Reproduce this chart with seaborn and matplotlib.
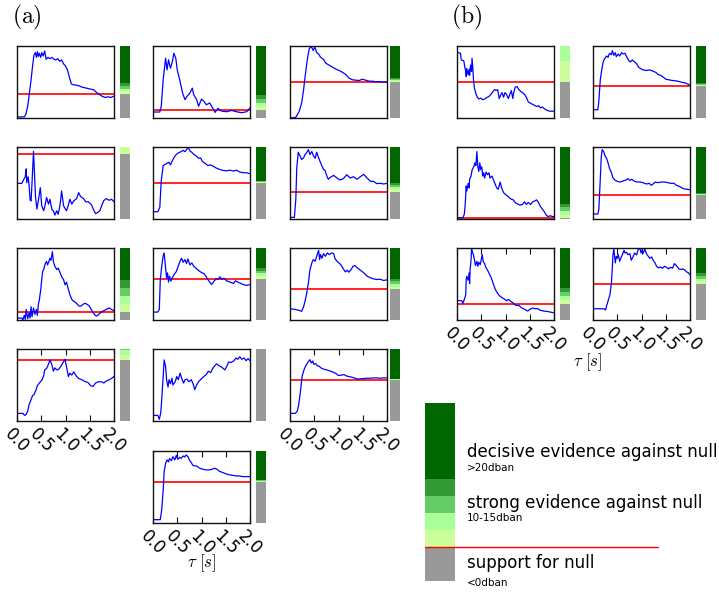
import matplotlib
matplotlib.use("Agg")
import matplotlib.pyplot as plt
import numpy as np
import pandas as pd
import seaborn as sns

sns.set_style("white")
plt.rcParams["font.family"] = ["DejaVu Sans"]
plt.rcParams["mathtext.fontset"] = "cm"
plt.rcParams["text.color"] = "black"
plt.rcParams["xtick.color"] = "black"
plt.rcParams["axes.labelcolor"] = "black"

# ---------------------------------------------------------------------------
# Evidence curves (dban) against delay tau (s), one pair of arrays per panel
# ---------------------------------------------------------------------------
t_a1 = [0.00, 0.15, 0.18, 0.22, 0.26, 0.29, 0.32, 0.35, 0.38, 0.40, 0.42, 0.44, 0.46, 0.49, 0.51, 0.54, 0.57, 0.60, 0.64, 0.68, 0.72, 0.76, 0.80, 0.84, 0.88, 0.92, 0.96, 1.00, 1.04, 1.08, 1.12, 1.16, 1.22, 1.28, 1.34, 1.40, 1.46, 1.52, 1.58, 1.64, 1.70, 1.76, 1.82, 1.88, 1.94, 2.00]
v_a1 = [-42, -42, -38, -22.5, 5, 26.5, 51, 72.5, 76.8, 68, 78.6, 69.4, 75.5, 68, 76.8, 70.6, 79.8, 64.5, 68, 65.7, 68, 64.5, 63.3, 65.7, 60.8, 63.3, 56, 52.2, 44.9, 31.4, 19.1, 17.3, 16.7, 15.5, 13, 11.8, 10.6, 9.3, 8.1, 3.2, -0.5, -4.2, -6, -4.8, -6, -3.5]

t_a2 = [0, 0.14, 0.17, 0.21, 0.26, 0.29, 0.32, 0.36, 0.40, 0.43, 0.47, 0.50, 0.55, 0.61, 0.66, 0.70, 0.76, 0.81, 0.84, 0.90, 0.94, 1.00, 1.05, 1.10, 1.17, 1.23, 1.28, 1.34, 1.41, 1.52, 1.62, 1.72, 1.83, 1.93, 2.00]
v_a2 = [-2.9, -2.9, 4.8, 40.8, 70, 54.3, 67.8, 56.5, 65.5, 76.8, 70, 54.3, 40.8, 22.8, 13.8, 18.3, 22.8, 29.5, 20.5, 13.8, 4.8, 14.7, 11.5, 7, 9.3, 2.5, -3.4, 2, -1.6, -2.5, -0.7, -2.5, -3.8, -2.5, 2.5]

t_a3 = [0, 0.12, 0.19, 0.24, 0.28, 0.32, 0.36, 0.40, 0.44, 0.48, 0.51, 0.55, 0.59, 0.63, 0.69, 0.74, 0.81, 0.88, 0.95, 1.02, 1.09, 1.15, 1.22, 1.29, 1.36, 1.43, 1.49, 1.56, 1.63, 1.70, 1.77, 1.84, 1.90, 2.00]
v_a3 = [-188, -184.5, -153, -110, -40, 46.5, 124.7, 176.8, 185.5, 164.6, 185.5, 154.2, 147.2, 129.9, 119.4, 98.6, 88.2, 77.8, 67.3, 60.4, 50, 39.5, 20.4, 11.8, 10, 8.3, 15.2, 10, 4.8, 4.8, 1.3, 3, -0.4, 1.3]

t_a4 = [0, 0.10, 0.14, 0.17, 0.19, 0.20, 0.23, 0.25, 0.27, 0.29, 0.31, 0.34, 0.36, 0.38, 0.41, 0.44, 0.48, 0.51, 0.55, 0.58, 0.61, 0.65, 0.68, 0.72, 0.75, 0.78, 0.82, 0.85, 0.89, 0.92, 0.96, 0.99, 1.02, 1.06, 1.09, 1.13, 1.17, 1.23, 1.27, 1.31, 1.37, 1.42, 1.47, 1.53, 1.58, 1.62, 1.67, 1.71, 1.75, 1.79, 1.84, 1.90, 1.95, 2.00]
v_a4 = [-18, -18, -15.5, -13.9, -9, -17.6, -13.9, -19.6, -28.2, -28.8, -17.6, 1.8, -11.4, -25.7, -33.9, -28.8, -20.6, -31.8, -34.9, -31.4, -26.7, -30.8, -27.8, -34.3, -34.9, -37.6, -34.9, -37.1, -30.8, -22.7, -31.8, -33.5, -34.9, -31.4, -27.8, -30.8, -28.8, -27.4, -23.7, -26.1, -27.4, -29.4, -29.4, -31, -34.3, -36.7, -35.9, -34.7, -31.4, -28.6, -27.4, -28.4, -27.8, -29.4]

t_a5 = [0, 0.10, 0.14, 0.17, 0.21, 0.28, 0.33, 0.36, 0.39, 0.43, 0.47, 0.52, 0.58, 0.62, 0.66, 0.70, 0.73, 0.76, 0.80, 0.84, 0.90, 0.94, 0.98, 1.02, 1.08, 1.13, 1.19, 1.24, 1.31, 1.38, 1.45, 1.52, 1.59, 1.66, 1.72, 1.79, 1.86, 1.93, 2.00]
v_a5 = [-352, -352, -300, 19, 206, 230, 246, 214, 254, 298, 334, 358, 374, 390, 374, 406, 422, 382, 366, 342, 318, 294, 298, 254, 230, 206, 214, 198, 174, 158, 146, 142, 150, 139, 150, 127, 119, 119, 107]

t_a6 = [0, 0.09, 0.12, 0.14, 0.17, 0.21, 0.24, 0.28, 0.31, 0.34, 0.38, 0.41, 0.45, 0.48, 0.52, 0.55, 0.59, 0.62, 0.66, 0.69, 0.72, 0.76, 0.79, 0.83, 0.90, 0.97, 1.03, 1.10, 1.17, 1.24, 1.31, 1.38, 1.45, 1.52, 1.59, 1.66, 1.72, 1.79, 1.86, 1.93, 2.00]
v_a6 = [-57.3, -57.3, -16.7, 53.5, 88.3, 79.4, 72, 75.7, 83.1, 86.8, 94.2, 83.1, 89.8, 80.9, 75, 88.3, 75.7, 67.6, 57.2, 49.9, 48.4, 35.1, 27.7, 32.1, 36.5, 30.6, 26.2, 29.2, 38, 30.6, 33.6, 27.7, 33.6, 38.8, 30.6, 23.2, 23.2, 18.1, 18.8, 17.3, 18.8]

t_a7 = [0, 0.10, 0.12, 0.15, 0.17, 0.19, 0.22, 0.25, 0.27, 0.29, 0.31, 0.34, 0.37, 0.40, 0.42, 0.44, 0.46, 0.49, 0.51, 0.53, 0.55, 0.57, 0.59, 0.61, 0.63, 0.66, 0.68, 0.70, 0.73, 0.75, 0.78, 0.82, 0.85, 0.89, 0.92, 0.96, 0.99, 1.02, 1.06, 1.09, 1.13, 1.16, 1.20, 1.24, 1.28, 1.32, 1.37, 1.41, 1.45, 1.49, 1.53, 1.57, 1.61, 1.65, 1.69, 1.74, 1.79, 1.84, 1.90, 1.95, 2.00]
v_a7 = [-3.8, -3.8, -5, -2.1, -4.6, 1.6, -4.2, -0.4, -3.8, 3.3, -2.9, 2.5, -1.5, 1.6, -2.1, 4.7, 7.4, 14.1, 20.3, 25.5, 26.5, 29, 30.7, 31.5, 29.4, 31.9, 33.6, 32.3, 37.7, 31.5, 28.6, 26.5, 27.4, 24.5, 22, 20.3, 17, 18.6, 14.1, 10.8, 7.9, 6.8, 6.2, 5, 3.7, 3.7, 5, 5.4, 4.7, 3.7, 1.6, -0.4, -2.1, -2.5, -1.3, 0, 0.8, 1.6, 2.5, 1.6, 0.8]

t_a8 = [0, 0.10, 0.13, 0.15, 0.18, 0.21, 0.23, 0.25, 0.28, 0.30, 0.32, 0.34, 0.37, 0.40, 0.44, 0.48, 0.52, 0.56, 0.59, 0.62, 0.66, 0.69, 0.72, 0.76, 0.80, 0.84, 0.90, 0.95, 1.01, 1.05, 1.09, 1.13, 1.17, 1.21, 1.26, 1.30, 1.34, 1.38, 1.42, 1.46, 1.52, 1.59, 1.66, 1.70, 1.75, 1.81, 1.86, 1.93, 2.00]
v_a8 = [-63, -63, -58, -2.8, 23.6, 43.6, 48.7, 29.8, 1.6, 11, -6.5, 4.8, -4.6, 2.3, 8.5, 13.5, 23.6, 33.6, 38.6, 31.1, 36.1, 28.6, 37.4, 26.1, 29.8, 23.6, 18.6, 14.8, 11, 9.8, 4.8, -1.5, -6.5, -10.9, -4.6, -0.3, -1.5, 3.5, -1.5, 1, -4, -6.5, -9, -4, -6.5, -9, -10.9, -12.8, -10.9]

t_a9 = [0, 0.10, 0.19, 0.24, 0.28, 0.31, 0.34, 0.38, 0.41, 0.45, 0.48, 0.52, 0.55, 0.59, 0.61, 0.63, 0.66, 0.69, 0.73, 0.77, 0.81, 0.86, 0.90, 0.93, 0.97, 1.01, 1.05, 1.10, 1.14, 1.18, 1.21, 1.26, 1.30, 1.34, 1.38, 1.45, 1.52, 1.59, 1.66, 1.72, 1.79, 1.86, 1.93, 2.00]
v_a9 = [-36.7, -37.9, -39.8, -41.7, -32.9, -22.3, -9.7, 12.2, 36.1, 49.8, 56.1, 53, 62.4, 73.7, 56.1, 65.5, 58.6, 67.4, 62.4, 68.7, 65.5, 68.7, 67.4, 57.4, 53, 49.8, 46.1, 38.6, 32.9, 36.1, 32.3, 37.3, 43.6, 44.8, 41.1, 36.1, 31, 24.8, 21.6, 19.7, 18.5, 19.1, 16.6, 17.9]

t_a10 = [0, 0.12, 0.16, 0.19, 0.22, 0.25, 0.29, 0.32, 0.35, 0.39, 0.42, 0.46, 0.51, 0.55, 0.57, 0.61, 0.64, 0.68, 0.72, 0.75, 0.78, 0.82, 0.86, 0.90, 0.94, 0.99, 1.02, 1.06, 1.09, 1.13, 1.17, 1.22, 1.27, 1.34, 1.41, 1.46, 1.52, 1.57, 1.62, 1.68, 1.73, 1.79, 1.84, 1.90, 1.95, 2.00]
v_a10 = [-53.4, -53.4, -55.4, -54.4, -51.1, -44.5, -39.6, -35.6, -34.6, -30.3, -25.7, -23, -20.4, -15.8, -9.9, -8.5, -5.2, 0, -4.9, -11.2, -7.9, -9.9, -9.2, -6.6, -3.3, 0.7, -6.6, -16.5, -13.2, -15.1, -11.8, -15.8, -18.4, -19.8, -21.7, -22.4, -25.7, -26.4, -23, -21.7, -21.7, -23, -21, -19.8, -18.4, -16.5]

t_a11 = [0, 0.10, 0.13, 0.16, 0.18, 0.21, 0.23, 0.26, 0.28, 0.31, 0.33, 0.36, 0.39, 0.41, 0.46, 0.49, 0.52, 0.56, 0.59, 0.63, 0.66, 0.70, 0.74, 0.79, 0.83, 0.86, 0.90, 0.94, 0.99, 1.05, 1.10, 1.14, 1.19, 1.23, 1.27, 1.31, 1.37, 1.42, 1.48, 1.52, 1.56, 1.61, 1.67, 1.71, 1.75, 1.79, 1.83, 1.88, 1.92, 1.96, 2.00]
v_a11 = [-55.3, -55.3, -58.6, -53.1, -42.1, -22.9, -9.1, -14.6, -25.6, -31.7, -25.6, -28.9, -24.3, -30, -27, -22.9, -25.6, -20.1, -24.3, -28.4, -25.6, -25.1, -27.3, -25.6, -29.5, -33.9, -30, -27.3, -25.1, -22.9, -21.2, -18.5, -19.6, -16.3, -14.1, -12.4, -14.1, -15.2, -17.4, -14.6, -10.8, -11.3, -9.7, -7.5, -8.6, -6.4, -8.6, -7.5, -9.7, -8, -9.7]

t_a12 = [0, 0.11, 0.15, 0.18, 0.22, 0.25, 0.29, 0.32, 0.36, 0.39, 0.41, 0.44, 0.47, 0.49, 0.53, 0.56, 0.60, 0.64, 0.68, 0.73, 0.78, 0.84, 0.89, 0.95, 1.00, 1.05, 1.11, 1.18, 1.25, 1.32, 1.38, 1.45, 1.52, 1.59, 1.66, 1.73, 1.79, 1.86, 1.93, 2.00]
v_a12 = [-461, -461, -429, -341, -129, 55, 147, 193, 239, 267, 285, 239, 267, 221, 230, 203, 193, 170, 156, 147, 138, 124, 110, 92, 64, 69, 78, 55, 46, 32, 18, 18, 23, 27, 27, 32, 32, 27, 32, 32]

t_a13 = [0, 0.15, 0.18, 0.21, 0.23, 0.26, 0.29, 0.32, 0.34, 0.38, 0.41, 0.45, 0.48, 0.51, 0.55, 0.58, 0.62, 0.65, 0.68, 0.72, 0.75, 0.79, 0.82, 0.86, 0.90, 0.95, 0.99, 1.03, 1.10, 1.16, 1.22, 1.27, 1.32, 1.37, 1.44, 1.51, 1.58, 1.64, 1.71, 1.78, 1.85, 1.92, 2.00]
v_a13 = [-279, -279, -204, -55, 82, 144, 169, 154, 179, 164, 194, 169, 204, 174, 189, 181, 199, 191, 206, 194, 169, 149, 129, 124, 124, 109, 104, 99, 94, 94, 99, 107, 99, 84, 74, 64, 57, 54, 49, 49, 44, 44, 44]

t_b1 = [0, 0.07, 0.09, 0.14, 0.16, 0.18, 0.19, 0.20, 0.23, 0.25, 0.26, 0.28, 0.30, 0.31, 0.33, 0.34, 0.36, 0.39, 0.42, 0.45, 0.49, 0.53, 0.57, 0.61, 0.66, 0.70, 0.74, 0.77, 0.81, 0.84, 0.87, 0.90, 0.93, 0.96, 0.99, 1.02, 1.06, 1.09, 1.12, 1.15, 1.17, 1.20, 1.24, 1.27, 1.31, 1.35, 1.39, 1.43, 1.47, 1.53, 1.58, 1.64, 1.68, 1.72, 1.76, 1.81, 1.86, 1.91, 2.00]
v_b1 = [7, 6.8, 5.2, 5, 3.6, 2.5, 1.3, 3.2, 1.7, 3, 1.6, 4, 2.5, 5.6, 2.7, 0.5, -1.5, -2.8, -3.6, -4, -3.8, -4.2, -4, -3.7, -3.4, -2.9, -2.3, -1.8, -2, -1.8, -3.9, -3.1, -2.5, -3.6, -2.5, -2.9, -3.9, -2.9, -2, -3.9, -2.5, -1.2, -1.1, -1.7, -2.2, -2.5, -2.9, -3.6, -4.7, -5.1, -5.4, -5.8, -5.6, -6.1, -5.9, -6.4, -6.7, -6.9, -6.9]

t_b2 = [0, 0.10, 0.12, 0.15, 0.18, 0.21, 0.24, 0.28, 0.31, 0.34, 0.38, 0.40, 0.43, 0.46, 0.48, 0.52, 0.55, 0.59, 0.62, 0.66, 0.70, 0.74, 0.77, 0.81, 0.86, 0.90, 0.94, 0.98, 1.03, 1.10, 1.17, 1.24, 1.30, 1.34, 1.39, 1.45, 1.50, 1.57, 1.64, 1.71, 1.77, 1.85, 1.92, 2.00]
v_b2 = [-179, -179, -117, 45, 120, 179, 204, 224, 214, 244, 234, 264, 229, 249, 219, 239, 224, 249, 239, 244, 214, 189, 179, 194, 179, 165, 140, 130, 120, 115, 120, 110, 100, 85, 80, 65, 50, 45, 40, 38, 33, 25, 20, 5]

t_b3 = [0, 0.12, 0.15, 0.17, 0.19, 0.20, 0.23, 0.25, 0.26, 0.29, 0.31, 0.33, 0.35, 0.37, 0.39, 0.41, 0.43, 0.45, 0.47, 0.49, 0.51, 0.53, 0.55, 0.57, 0.60, 0.63, 0.66, 0.68, 0.72, 0.75, 0.78, 0.82, 0.85, 0.89, 0.92, 0.96, 1.00, 1.04, 1.08, 1.12, 1.16, 1.20, 1.24, 1.30, 1.35, 1.39, 1.43, 1.47, 1.52, 1.56, 1.60, 1.64, 1.68, 1.72, 1.76, 1.80, 1.84, 1.88, 1.92, 1.97, 2.00]
v_b3 = [0.8, 0.8, 5.4, 19.6, 44.9, 37.5, 48.5, 42.1, 54, 58.6, 66.9, 69.6, 72.4, 77, 73.3, 92.6, 71.5, 65.1, 77, 67.8, 71.5, 58.6, 63.2, 55.9, 64.1, 60.5, 63.2, 55.9, 58.6, 54, 48.5, 42.1, 40.3, 50.4, 42.1, 35.7, 32.9, 31.1, 28.4, 26.5, 25.6, 21.9, 20.1, 18.3, 19.2, 22.9, 19.2, 21.9, 19.2, 22.9, 23.8, 25.6, 21.9, 16.4, 12.8, 9.1, 4.5, 2.2, 3.6, 2.2, 2.7]

t_b4 = [0, 0.10, 0.12, 0.15, 0.17, 0.19, 0.22, 0.25, 0.28, 0.31, 0.34, 0.38, 0.41, 0.45, 0.50, 0.55, 0.62, 0.68, 0.72, 0.76, 0.80, 0.86, 0.91, 0.97, 1.03, 1.10, 1.16, 1.20, 1.24, 1.28, 1.34, 1.41, 1.48, 1.54, 1.61, 1.67, 1.72, 1.79, 1.86, 1.93, 2.00]
v_b4 = [-230, -230, -178, 189, 460, 548, 524, 468, 444, 388, 324, 269, 209, 181, 165, 157, 169, 181, 197, 177, 189, 165, 157, 157, 149, 133, 141, 117, 133, 157, 149, 157, 157, 149, 141, 141, 117, 101, 77, 69, 65]

t_b5 = [0, 0.10, 0.12, 0.15, 0.18, 0.19, 0.20, 0.23, 0.25, 0.26, 0.27, 0.29, 0.30, 0.32, 0.34, 0.36, 0.38, 0.41, 0.43, 0.45, 0.48, 0.50, 0.52, 0.54, 0.57, 0.59, 0.63, 0.67, 0.71, 0.75, 0.79, 0.83, 0.87, 0.92, 0.97, 1.02, 1.06, 1.11, 1.15, 1.19, 1.23, 1.28, 1.32, 1.37, 1.42, 1.46, 1.50, 1.56, 1.61, 1.67, 1.72, 1.79, 1.86, 1.92, 2.00]
v_b5 = [4.4, 4, 0.8, 5.6, 11.3, 30, 34, 29.2, 38.1, 25.1, 42.1, 54.3, 67.3, 63.2, 60, 54.3, 47, 52.3, 46.2, 51.1, 48.2, 54.3, 60.4, 51.9, 49.4, 45.4, 41.3, 36.5, 31.6, 24.3, 17.8, 13.8, 10.5, 8.1, 6.5, 4, 5.6, 3.2, 1.6, -0.8, -1.7, -1.7, -4.1, -5.7, -7.3, -8.6, -6.5, -4.9, -5.7, -5.7, -7.7, -8.6, -9, -9.8, -10.6]

t_b6 = [0, 0.23, 0.26, 0.28, 0.32, 0.35, 0.38, 0.40, 0.41, 0.43, 0.46, 0.48, 0.50, 0.52, 0.55, 0.59, 0.62, 0.64, 0.66, 0.69, 0.72, 0.76, 0.79, 0.83, 0.86, 0.90, 0.93, 0.97, 0.99, 1.01, 1.03, 1.07, 1.10, 1.14, 1.17, 1.21, 1.24, 1.28, 1.31, 1.35, 1.39, 1.43, 1.48, 1.52, 1.56, 1.60, 1.64, 1.68, 1.72, 1.77, 1.81, 1.85, 1.89, 1.93, 1.97, 2.00]
v_b6 = [-45, -45, -47.4, -40.1, -28.1, -19, 2.1, 32.3, 51.6, 63.7, 38.3, 50.4, 46.8, 54, 41.4, 50.4, 56.4, 61.3, 56.4, 57.7, 53.4, 55.2, 43.2, 50.4, 56.4, 52.8, 62.5, 64.9, 56.4, 61.3, 55.2, 63.7, 55.2, 50.4, 46.8, 49.2, 43.2, 38.3, 32.3, 29.3, 31.1, 28.7, 32.3, 29.9, 27.5, 30.5, 28.7, 37.1, 33.5, 27.5, 26.3, 27.5, 25.7, 22, 20.2, 16.6]

# Vertical range (dban) shown for each panel
ylim_a = [(-44, 89), (-11, 86.6), (-188, 189),
          (-40, 4.5), (-440, 430), (-61, 100),
          (-5, 40), (-78, 58), (-58, 78),
          (-61, 11), (-60, 0), (-567, 433),
          (-304, 236)]
ylim_b = [(-8.5, 8.5), (-241, 299),
          (-1, 99), (-290, 580),
          (-19.5, 68.5), (-65.5, 65.5)]

# Evidence scale: thresholds (dban) and band colours from "support for null" upwards
band_edges = [0, 5, 10, 15, 20]
band_colors = ["#999999", "#ccff99", "#aaff99", "#66cc66", "#339933", "#006600"]
tick_values = [0.0, 0.5, 1.0, 1.5, 2.0]
tick_labels = ["0.0", "0.5", "1.0", "1.5", "2.0"]
legend_titles = ["decisive evidence against null", "strong evidence against null", "support for null"]
legend_notes = [">20dban", "10-15dban", "<0dban"]

# ---------------------------------------------------------------------------
W, H = 719, 592
fig = plt.figure(figsize=(W / 100, H / 100), dpi=100)


def px_axes(x, y, w, h):
    """Axes placed by pixel box (left, top, width, height)."""
    return fig.add_axes([x / W, 1 - (y + h) / H, w / W, h / H])


def draw_scale(ax, lo, hi, xmax=1.0):
    levels = [-np.inf] + band_edges + [np.inf]
    for c, a, b in zip(band_colors, levels[:-1], levels[1:]):
        a2, b2 = max(a, lo), min(b, hi)
        if b2 > a2:
            ax.axhspan(a2, b2, xmin=0, xmax=xmax, color=c, lw=0)
    ax.set_ylim(lo, hi)
    ax.set_xlim(0, 1)
    ax.axis("off")


def draw_panel(t, v, lims, left, bar_left, top, ticks):
    lo, hi = lims
    ax = px_axes(left, top, 97, 72)
    df = pd.DataFrame({"tau": t, "dban": v})
    sns.lineplot(data=df, x="tau", y="dban", ax=ax, color="#0000ff", lw=0.9,
                 estimator=None)
    ax.axhline(0, color="#ff0000", lw=1.2, zorder=1)
    ax.set_xlim(0, 2)
    ax.set_ylim(lo, hi)
    ax.set_yticks([])
    ax.set_xlabel("")
    ax.set_ylabel("")
    for s in ax.spines.values():
        s.set_visible(True)
        s.set_color("#111111")
        s.set_linewidth(1.0)
    if ticks:
        ax.set_xticks(tick_values)
        ax.set_xticklabels(tick_labels, rotation=-45, ha="center", fontsize=12,
                           color="black")
        ax.tick_params(axis="x", direction="in", top=True, bottom=True,
                       length=4, width=0.8, color="#111111", pad=3)
    else:
        ax.set_xticks([])
    bar = px_axes(bar_left, top, 10, 72)
    draw_scale(bar, lo, hi)
    return ax


rows = [46, 147, 248, 349, 451]
cols_a = [(17, 120), (153, 256), (290, 390)]
cols_b = [(457, 560), (593, 696)]

curves_a = [(t_a1, v_a1), (t_a2, v_a2), (t_a3, v_a3),
            (t_a4, v_a4), (t_a5, v_a5), (t_a6, v_a6),
            (t_a7, v_a7), (t_a8, v_a8), (t_a9, v_a9),
            (t_a10, v_a10), (t_a11, v_a11), (t_a12, v_a12),
            (t_a13, v_a13)]
slots_a = [(0, 0), (0, 1), (0, 2),
           (1, 0), (1, 1), (1, 2),
           (2, 0), (2, 1), (2, 2),
           (3, 0), (3, 1), (3, 2),
           (4, 1)]
ticked_a = {9, 11, 12}
for i, ((t, v), lims, (r, c)) in enumerate(zip(curves_a, ylim_a, slots_a)):
    draw_panel(t, v, lims, cols_a[c][0], cols_a[c][1], rows[r], i in ticked_a)

curves_b = [(t_b1, v_b1), (t_b2, v_b2),
            (t_b3, v_b3), (t_b4, v_b4),
            (t_b5, v_b5), (t_b6, v_b6)]
for i, ((t, v), lims) in enumerate(zip(curves_b, ylim_b)):
    r, c = divmod(i, 2)
    draw_panel(t, v, lims, cols_b[c][0], cols_b[c][1], rows[r], r == 2)

# axis titles and panel letters
fig.text(202 / W, 1 - 563 / H, r"$\tau\ [s]$", ha="center", va="center", fontsize=12)
fig.text(588 / W, 1 - 362 / H, r"$\tau\ [s]$", ha="center", va="center", fontsize=12)
fig.text(27 / W, 1 - 17 / H, r"$\mathrm{(a)}$", ha="center", va="center", fontsize=17)
fig.text(467 / W, 1 - 17 / H, r"$\mathrm{(b)}$", ha="center", va="center", fontsize=17)

# evidence scale key
key = px_axes(425, 403, 234, 178)
draw_scale(key, -10, 42.4, xmax=30 / 234)
key.axhline(0, color="#ff0000", lw=1.0)
title_y = [0.725, 0.438, 0.101]
note_y = [0.635, 0.354, -0.01]
for title, note, ty, ny in zip(legend_titles, legend_notes, title_y, note_y):
    key.text(0.179, ty, title, transform=key.transAxes, fontsize=12,
             ha="left", va="center", color="black")
    key.text(0.179, ny, note, transform=key.transAxes, fontsize=7.5,
             ha="left", va="center", color="black")

fig.savefig("out.png", dpi=100)
